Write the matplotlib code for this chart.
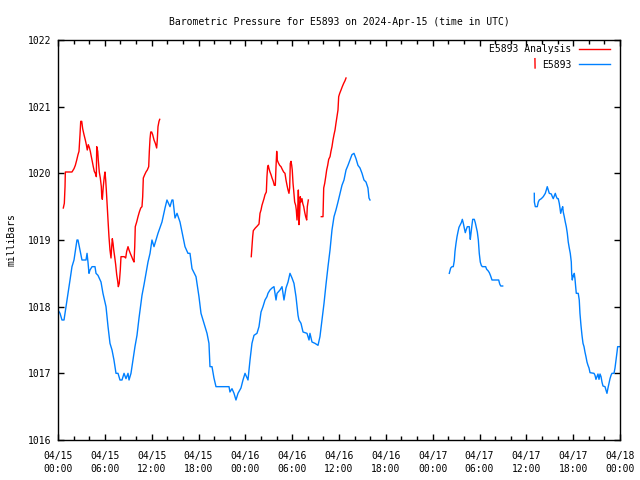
import datetime as dt

import numpy as np
import matplotlib
matplotlib.use("Agg")
import matplotlib.pyplot as plt
import matplotlib.dates as mdates


# hours since 2024-04-15 00:00 UTC, pressure in mb; one list per unbroken piece
obs_t1 = [0.0, 0.26, 0.51, 0.77, 0.9, 1.02, 1.28, 1.54, 1.79, 2.05, 2.31, 2.43, 2.56, 2.82,
          3.07, 3.59, 3.72, 3.84, 3.97, 4.1, 4.36, 4.74, 4.87, 5.12, 5.51, 5.76, 6.15, 6.41,
          6.66, 6.92, 7.17, 7.43, 7.69, 7.94, 8.2, 8.46, 8.71, 8.97, 9.1, 9.35, 9.61, 9.86,
          10.12, 10.38, 10.76, 11.02, 11.27, 11.53, 11.79, 12.04, 12.3, 12.55, 12.81, 13.32,
          13.71, 13.96, 14.35, 14.6, 14.73, 14.99, 15.25, 15.63, 15.89, 16.27, 16.65, 16.91,
          17.17, 17.68, 18.06, 18.32, 18.7, 19.09, 19.34, 19.47, 19.73, 19.98, 20.24, 21.91,
          22.03, 22.29, 22.55, 22.8, 23.06, 23.44, 23.7, 23.96, 24.34, 24.6, 24.85, 25.11,
          25.49, 25.75, 26.01, 26.26, 26.52, 26.77, 26.9, 27.16, 27.42, 27.67, 27.93, 28.06,
          28.44, 28.7, 28.95, 29.21, 29.47, 29.72, 29.98, 30.23, 30.49, 30.75, 30.87, 31.13,
          31.39, 31.9, 32.16, 32.28, 32.54, 32.92, 33.31, 33.56, 33.82, 34.08, 34.33, 34.59,
          34.85, 35.1, 35.36, 35.61, 35.87, 36.13, 36.38, 36.64, 36.9, 37.15, 37.41, 37.66,
          37.92, 38.18, 38.43, 38.69, 38.95, 39.2, 39.46, 39.71, 39.84, 39.97]
obs_p1 = [1017.95, 1017.9, 1017.8, 1017.8, 1017.9, 1018.0, 1018.2, 1018.4, 1018.6, 1018.7,
          1018.9, 1019.0, 1019.0, 1018.85, 1018.7, 1018.7, 1018.8, 1018.67, 1018.5, 1018.55,
          1018.6, 1018.6, 1018.5, 1018.47, 1018.37, 1018.2, 1018.0, 1017.7, 1017.45, 1017.35,
          1017.2, 1017.0, 1017.0, 1016.9, 1016.9, 1017.0, 1016.92, 1017.0, 1016.9, 1017.0,
          1017.2, 1017.4, 1017.57, 1017.83, 1018.17, 1018.33, 1018.5, 1018.67, 1018.8, 1019.0,
          1018.9, 1019.0, 1019.1, 1019.27, 1019.48, 1019.6, 1019.5, 1019.6, 1019.6, 1019.33,
          1019.4, 1019.27, 1019.12, 1018.9, 1018.8, 1018.8, 1018.57, 1018.45, 1018.15, 1017.9,
          1017.75, 1017.6, 1017.45, 1017.1, 1017.1, 1016.93, 1016.8, 1016.8, 1016.72, 1016.77,
          1016.7, 1016.6, 1016.7, 1016.78, 1016.9, 1017.0, 1016.9, 1017.2, 1017.45, 1017.57,
          1017.6, 1017.7, 1017.92, 1018.0, 1018.1, 1018.15, 1018.2, 1018.25, 1018.28, 1018.3,
          1018.1, 1018.2, 1018.25, 1018.3, 1018.1, 1018.28, 1018.37, 1018.5, 1018.43, 1018.35,
          1018.15, 1017.87, 1017.8, 1017.75, 1017.62, 1017.6, 1017.5, 1017.6, 1017.47, 1017.45,
          1017.42, 1017.55, 1017.8, 1018.05, 1018.33, 1018.6, 1018.85, 1019.15, 1019.35,
          1019.45, 1019.57, 1019.7, 1019.82, 1019.9, 1020.05, 1020.12, 1020.2, 1020.28, 1020.3,
          1020.22, 1020.12, 1020.08, 1020.0, 1019.9, 1019.87, 1019.78, 1019.63, 1019.6]

obs_t2 = [41.72, 41.8]
obs_p2 = [1018.8, 1018.8]

obs_t3 = [50.13, 50.31, 50.48, 50.64, 50.77, 50.86, 50.99, 51.12, 51.24, 51.37, 51.54, 51.67,
          51.8, 51.93, 52.05, 52.18, 52.31, 52.44, 52.69, 52.74, 52.82, 52.91, 53.04, 53.13,
          53.33, 53.46, 53.59, 53.72, 53.85, 53.97, 54.1, 54.23, 54.36, 54.79, 54.92, 55.09,
          55.26, 55.43, 55.6, 56.46, 56.59, 56.72, 56.97]
obs_p3 = [1018.5, 1018.58, 1018.6, 1018.6, 1018.69, 1018.83, 1018.95, 1019.05, 1019.12,
          1019.19, 1019.23, 1019.26, 1019.31, 1019.25, 1019.18, 1019.11, 1019.16, 1019.2,
          1019.2, 1019.11, 1019.01, 1019.1, 1019.23, 1019.31, 1019.31, 1019.26, 1019.19,
          1019.12, 1019.0, 1018.8, 1018.67, 1018.62, 1018.6, 1018.6, 1018.56, 1018.54,
          1018.51, 1018.46, 1018.4, 1018.4, 1018.34, 1018.31, 1018.31]

obs_t4 = [61.02, 61.03, 61.15, 61.4, 61.53, 61.66, 61.92, 62.17, 62.43, 62.56, 62.68, 62.81,
          62.94, 63.2, 63.33, 63.45, 63.58, 63.71, 63.84, 63.97, 64.09, 64.22, 64.31, 64.4,
          64.53, 64.66, 64.73, 64.86, 64.99, 65.12, 65.25, 65.37, 65.5, 65.63, 65.76, 65.81,
          65.89, 65.98, 66.07, 66.14, 66.23, 66.32, 66.4, 66.65, 66.78, 66.87, 67.0, 67.13,
          67.26, 67.39, 67.51, 67.64, 67.77, 67.9, 68.03, 68.16, 68.67, 68.8, 68.92, 69.05,
          69.18, 69.31, 69.44, 69.57, 69.69, 69.82, 70.08, 70.2, 70.33, 70.46, 70.59, 70.72,
          70.85, 70.97, 71.23, 71.36, 71.49, 71.62, 71.7, 72.0]
obs_p4 = [1019.7, 1019.57, 1019.5, 1019.5, 1019.57, 1019.6, 1019.62, 1019.65, 1019.7,
          1019.75, 1019.8, 1019.75, 1019.7, 1019.69, 1019.65, 1019.62, 1019.66, 1019.7,
          1019.65, 1019.62, 1019.62, 1019.55, 1019.48, 1019.4, 1019.46, 1019.5, 1019.42,
          1019.35, 1019.27, 1019.2, 1019.1, 1018.97, 1018.88, 1018.8, 1018.67, 1018.49,
          1018.4, 1018.47, 1018.45, 1018.5, 1018.42, 1018.3, 1018.2, 1018.2, 1018.1, 1017.9,
          1017.72, 1017.57, 1017.45, 1017.4, 1017.32, 1017.25, 1017.17, 1017.12, 1017.08,
          1017.01, 1017.0, 1016.97, 1016.91, 1016.95, 1016.99, 1016.91, 1016.99, 1016.95,
          1016.87, 1016.81, 1016.8, 1016.75, 1016.7, 1016.78, 1016.85, 1016.92, 1016.97,
          1017.0, 1017.0, 1017.08, 1017.2, 1017.32, 1017.4, 1017.4]

ana_t1 = [0.68, 0.81, 0.9, 0.94, 1.79, 2.05, 2.22, 2.4, 2.56, 2.69, 2.82, 2.91, 3.04, 3.16,
          3.33, 3.5, 3.63, 3.75, 3.88, 4.01, 4.14, 4.27, 4.39, 4.52, 4.65, 4.78, 4.91, 4.96,
          5.09, 5.16, 5.29, 5.42, 5.55, 5.6, 5.68, 5.8, 5.93, 6.02, 6.11, 6.19, 6.32, 6.44,
          6.53, 6.66, 6.79, 6.88, 6.96, 7.05, 7.14, 7.26, 7.39, 7.52, 7.65, 7.73, 7.85, 7.98,
          8.07, 8.49, 8.67, 8.8, 8.97, 9.1, 9.26, 9.44, 9.61, 9.74, 9.83, 9.9, 10.08, 10.25,
          10.42, 10.6, 10.76, 10.85, 10.93, 11.11, 11.27, 11.44, 11.62, 11.7, 11.79, 11.88,
          12.0, 12.13, 12.3, 12.47, 12.64, 12.72, 12.81, 12.94, 13.03]
ana_p1 = [1019.48, 1019.55, 1019.8, 1020.02, 1020.02, 1020.07, 1020.12, 1020.2, 1020.28,
          1020.33, 1020.58, 1020.78, 1020.78, 1020.67, 1020.58, 1020.5, 1020.43, 1020.35,
          1020.43, 1020.39, 1020.33, 1020.25, 1020.18, 1020.1, 1020.03, 1020.0, 1019.95,
          1020.4, 1020.33, 1020.2, 1020.02, 1019.93, 1019.8, 1019.67, 1019.61, 1019.8,
          1019.95, 1020.02, 1019.9, 1019.75, 1019.48, 1019.23, 1019.05, 1018.85, 1018.73,
          1018.9, 1019.02, 1018.95, 1018.85, 1018.75, 1018.63, 1018.48, 1018.38, 1018.3,
          1018.35, 1018.55, 1018.75, 1018.75, 1018.73, 1018.83, 1018.9, 1018.85, 1018.8,
          1018.75, 1018.7, 1018.67, 1018.9, 1019.2, 1019.27, 1019.35, 1019.42, 1019.48,
          1019.5, 1019.65, 1019.93, 1019.98, 1020.02, 1020.05, 1020.1, 1020.33, 1020.52,
          1020.62, 1020.62, 1020.58, 1020.5, 1020.45, 1020.38, 1020.5, 1020.7, 1020.78, 1020.81]

ana_t2 = [24.76, 24.85, 24.94, 25.02, 25.28, 25.53, 25.75, 25.88, 26.01, 26.13, 26.26, 26.39,
          26.52, 26.69, 26.77, 26.86, 26.94, 27.03, 27.16, 27.29, 27.42, 27.58, 27.71, 27.84,
          27.93, 28.02, 28.09, 28.22, 28.4, 28.57, 28.73, 28.91, 29.08, 29.21, 29.34, 29.47,
          29.59, 29.68, 29.76, 29.85, 29.94, 30.01, 30.11, 30.19, 30.32, 30.45, 30.53, 30.62,
          30.71, 30.79, 30.84, 30.87, 30.96, 31.04, 31.13, 31.26, 31.35, 31.48, 31.6, 31.73,
          31.86, 31.94, 32.07]
ana_p2 = [1018.75, 1018.9, 1019.05, 1019.14, 1019.18, 1019.21, 1019.24, 1019.4, 1019.45,
          1019.52, 1019.57, 1019.62, 1019.68, 1019.72, 1019.95, 1020.1, 1020.12, 1020.07,
          1020.02, 1019.98, 1019.93, 1019.88, 1019.82, 1019.82, 1020.1, 1020.33, 1020.2,
          1020.16, 1020.12, 1020.1, 1020.06, 1020.02, 1020.0, 1019.9, 1019.82, 1019.75,
          1019.7, 1019.78, 1020.15, 1020.18, 1020.12, 1020.05, 1019.85, 1019.75, 1019.57,
          1019.52, 1019.45, 1019.3, 1019.45, 1019.75, 1019.55, 1019.23, 1019.4, 1019.65,
          1019.57, 1019.62, 1019.55, 1019.5, 1019.42, 1019.35, 1019.3, 1019.5, 1019.6]

ana_t3 = [33.73, 33.95, 34.04, 34.17, 34.3, 34.42, 34.55, 34.68, 34.85, 34.97, 35.1, 35.23,
          35.36, 35.49, 35.61, 35.74, 35.87, 35.96, 36.09, 36.26, 36.42, 36.6, 36.77, 36.9]
ana_p3 = [1019.35, 1019.35, 1019.78, 1019.85, 1019.95, 1020.05, 1020.12, 1020.21, 1020.25,
          1020.33, 1020.4, 1020.5, 1020.58, 1020.65, 1020.75, 1020.85, 1020.95, 1021.15,
          1021.2, 1021.25, 1021.3, 1021.35, 1021.39, 1021.43]

ana_t4 = [61.1, 61.12]
ana_p4 = [1021.72, 1021.58]

start = dt.datetime(2024, 4, 15)


def to_dates(hours):
    return [start + dt.timedelta(hours=h) for h in hours]


plt.rcParams['font.family'] = 'DejaVu Sans Mono'
plt.rcParams['font.size'] = 7

fig = plt.figure(figsize=(6.4, 4.8), dpi=100)
ax = fig.add_axes([58 / 640, 40 / 480, 562 / 640, 400 / 480])

red = '#ff0000'
blue = '#0080ff'

for i, (t, p) in enumerate([(ana_t1, ana_p1), (ana_t2, ana_p2), (ana_t3, ana_p3), (ana_t4, ana_p4)]):
    ax.plot(to_dates(t), p, color=red, lw=1.0, label='E5893 Analysis' if i == 0 else None)
for i, (t, p) in enumerate([(obs_t1, obs_p1), (obs_t2, obs_p2), (obs_t3, obs_p3), (obs_t4, obs_p4)]):
    ax.plot(to_dates(t), p, color=blue, lw=1.0, label='E5893' if i == 0 else None)

ax.set_xlim(start, start + dt.timedelta(hours=72))
ax.set_ylim(1016, 1022)
ax.set_yticks(np.arange(1016, 1023, 1))
ax.yaxis.set_major_formatter(matplotlib.ticker.FormatStrFormatter('%d'))

ax.xaxis.set_major_locator(mdates.HourLocator(byhour=[0, 6, 12, 18]))
ax.xaxis.set_major_formatter(mdates.DateFormatter('%m/%d\n%H:%M'))
ax.xaxis.set_minor_locator(mdates.HourLocator(byhour=range(0, 24, 2)))

ax.tick_params(which='both', direction='in', top=True, right=True, width=1, color='black')
ax.tick_params(which='major', length=4, pad=5)
ax.tick_params(axis='x', which='major', pad=8)
ax.tick_params(which='minor', length=3)
for lbl in ax.get_xticklabels():
    lbl.set_linespacing(1.4)
for s in ax.spines.values():
    s.set_linewidth(1)

ax.set_title('Barometric Pressure for E5893 on 2024-Apr-15 (time in UTC)', fontsize=7, pad=11)
ax.set_ylabel('milliBars', labelpad=8)

ax.legend(loc='upper right', bbox_to_anchor=(1 - 6 / 562, 1), frameon=False,
          markerfirst=False, handlelength=3.2, borderaxespad=0.15, labelspacing=0.55,
          handletextpad=0.7, borderpad=0.3)

fig.savefig('out.png', dpi=100)
